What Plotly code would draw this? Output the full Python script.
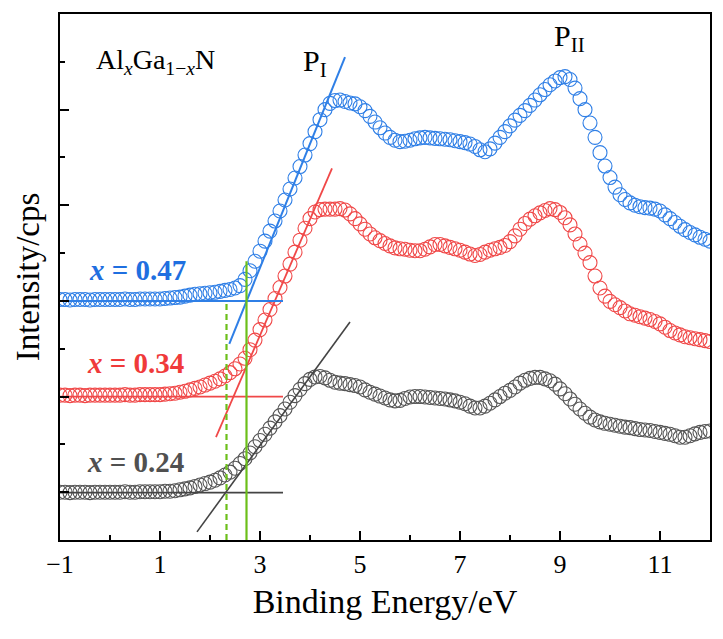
import numpy as np
import plotly.graph_objects as go

# Binding energy grid (eV), 0.1 eV step
energy = np.round(np.arange(-1.0, 12.0001, 0.1), 1)

# Intensities (arbitrary units, offset stacked)
blue_047 = [
    5.03, 5.03, 5.02, 5.03, 5.03, 5.03, 5.02, 5.03, 5.03, 5.03,
    5.03, 5.03, 5.03, 5.04, 5.03, 5.03, 5.04, 5.04, 5.04, 5.04,
    5.04, 5.05, 5.06, 5.07, 5.08, 5.10, 5.12, 5.14, 5.15, 5.16,
    5.17, 5.18, 5.20, 5.22, 5.24, 5.27, 5.32, 5.45, 5.63, 5.83,
    6.04, 6.25, 6.46, 6.67, 6.88, 7.11, 7.34, 7.57, 7.81, 8.05,
    8.29, 8.54, 8.79, 9.00, 9.13, 9.19, 9.20, 9.17, 9.14, 9.12,
    9.06, 8.98, 8.86, 8.74, 8.62, 8.51, 8.42, 8.36, 8.33, 8.34,
    8.36, 8.39, 8.41, 8.42, 8.41, 8.40, 8.39, 8.38, 8.37, 8.35,
    8.33, 8.31, 8.28, 8.23, 8.16, 8.12, 8.18, 8.30, 8.42, 8.54,
    8.66, 8.78, 8.88, 8.98, 9.09, 9.20, 9.31, 9.42, 9.52, 9.60,
    9.67, 9.69, 9.63, 9.45, 9.23, 9.00, 8.72, 8.42, 8.10, 7.82,
    7.58, 7.38, 7.22, 7.12, 7.05, 7.00, 6.97, 6.95, 6.94, 6.92,
    6.88, 6.80, 6.72, 6.64, 6.56, 6.49, 6.43, 6.38, 6.33, 6.29,
    6.25,
]
red_034 = [
    3.03, 3.03, 3.02, 3.03, 3.03, 3.02, 3.03, 3.03, 3.03, 3.03,
    3.03, 3.03, 3.03, 3.04, 3.03, 3.03, 3.04, 3.04, 3.04, 3.04,
    3.04, 3.05, 3.06, 3.07, 3.09, 3.11, 3.14, 3.17, 3.20, 3.24,
    3.28, 3.32, 3.37, 3.43, 3.50, 3.58, 3.68, 3.80, 3.98, 4.18,
    4.40, 4.60, 4.82, 5.05, 5.28, 5.52, 5.77, 6.02, 6.27, 6.52,
    6.72, 6.86, 6.91, 6.92, 6.92, 6.92, 6.93, 6.90, 6.82, 6.72,
    6.61, 6.50, 6.40, 6.32, 6.26, 6.20, 6.15, 6.11, 6.09, 6.08,
    6.06, 6.05, 6.05, 6.08, 6.13, 6.18, 6.18, 6.15, 6.12, 6.09,
    6.06, 6.02, 5.98, 5.95, 5.97, 6.02, 6.06, 6.09, 6.12, 6.16,
    6.24, 6.36, 6.50, 6.62, 6.71, 6.78, 6.84, 6.89, 6.93, 6.91,
    6.85, 6.74, 6.59, 6.40, 6.19, 6.00, 5.80, 5.52, 5.27, 5.10,
    4.99, 4.92, 4.86, 4.79, 4.73, 4.70, 4.67, 4.64, 4.61, 4.57,
    4.52, 4.45, 4.38, 4.33, 4.29, 4.25, 4.23, 4.21, 4.19, 4.17,
    4.15,
]
gray_024 = [
    1.00, 1.00, 0.99, 1.00, 1.00, 1.00, 0.99, 1.00, 1.00, 1.00,
    1.00, 1.00, 1.00, 1.01, 1.00, 1.00, 1.01, 1.01, 1.01, 1.01,
    1.01, 1.02, 1.02, 1.03, 1.05, 1.07, 1.09, 1.12, 1.15, 1.18,
    1.21, 1.25, 1.30, 1.36, 1.42, 1.50, 1.60, 1.70, 1.82, 1.95,
    2.08, 2.21, 2.34, 2.47, 2.60, 2.74, 2.88, 3.02, 3.15, 3.27,
    3.36, 3.41, 3.42, 3.39, 3.34, 3.30, 3.28, 3.27, 3.25, 3.23,
    3.20, 3.14, 3.09, 3.05, 3.01, 2.97, 2.93, 2.91, 2.92, 2.96,
    2.99, 3.00, 3.00, 2.99, 2.98, 2.97, 2.96, 2.95, 2.93, 2.91,
    2.88, 2.85, 2.80, 2.76, 2.76, 2.80, 2.86, 2.93, 3.00, 3.07,
    3.13, 3.20, 3.28, 3.34, 3.38, 3.40, 3.40, 3.37, 3.33, 3.26,
    3.16, 3.06, 2.95, 2.84, 2.74, 2.65, 2.57, 2.51, 2.47, 2.44,
    2.42, 2.40, 2.38, 2.36, 2.35, 2.33, 2.31, 2.30, 2.29, 2.27,
    2.25, 2.23, 2.21, 2.18, 2.15, 2.15, 2.18, 2.22, 2.25, 2.27,
    2.28,
]

# Linear onset fits (two end points each) and baselines
blue_fit_x = [2.386, 4.70]
blue_fit_y = [4.10, 10.10]
red_fit_x = [2.12, 4.44]
red_fit_y = [2.15, 7.77]
gray_fit_x = [1.74, 4.80]
gray_fit_y = [0.17, 4.56]
base_x = [-1.0, 3.46]
blue_base = [5.0, 5.0]
red_base = [3.0, 3.0]
gray_base = [0.99, 0.99]

# Onset markers (green vertical lines)
onset_solid_x = [2.73, 2.73]
onset_solid_y = [0.0, 5.83]
onset_dash_x = [2.33, 2.33]
onset_dash_y = [0.0, 4.94]

BLUE = "#2f7fe6"
RED = "#f04848"
GRAY = "#555555"
GREEN = "#6cbf1a"
FONT = "Liberation Serif"

fig = go.Figure()

for ys, col in [(gray_024, GRAY), (red_034, RED), (blue_047, BLUE)]:
    fig.add_trace(go.Scatter(
        x=energy, y=ys, mode="markers",
        marker=dict(symbol="circle", size=14, color="rgba(0,0,0,0)",
                    line=dict(color=col, width=1.1)),
        hoverinfo="skip"))

for xs, ys, col, w in [
    (blue_fit_x, blue_fit_y, BLUE, 2),
    (red_fit_x, red_fit_y, RED, 1.8),
    (gray_fit_x, gray_fit_y, "#444444", 1.6),
    (base_x, blue_base, BLUE, 2),
    (base_x, red_base, RED, 1.8),
    (base_x, gray_base, "#444444", 1.6),
]:
    fig.add_trace(go.Scatter(x=xs, y=ys, mode="lines",
                             line=dict(color=col, width=w), hoverinfo="skip"))

fig.add_trace(go.Scatter(x=onset_solid_x, y=onset_solid_y, mode="lines",
                         line=dict(color=GREEN, width=2.2), hoverinfo="skip"))
fig.add_trace(go.Scatter(x=onset_dash_x, y=onset_dash_y, mode="lines",
                         line=dict(color=GREEN, width=2.2, dash="6px,4px"),
                         hoverinfo="skip"))

annos = [
    dict(x=-0.32, y=10.0, text="Al<sub><i>x</i></sub>Ga<sub>1−<i>x</i></sub>N",
         font=dict(size=28, color="black"), xanchor="left"),
    dict(x=3.82, y=9.97, text="P<sub>I</sub>", font=dict(size=30, color="black"),
         xanchor="left"),
    dict(x=8.84, y=10.49, text="P<sub>II</sub>", font=dict(size=30, color="black"),
         xanchor="left"),
    dict(x=-0.46, y=5.65, text="<b><i>x</i> = 0.47</b>",
         font=dict(size=29, color="#1f6fe0"), xanchor="left"),
    dict(x=-0.50, y=3.71, text="<b><i>x</i> = 0.34</b>",
         font=dict(size=29, color="#f03a3a"), xanchor="left"),
    dict(x=-0.50, y=1.63, text="<b><i>x</i> = 0.24</b>",
         font=dict(size=29, color="#505050"), xanchor="left"),
]
for a in annos:
    fig.add_annotation(xref="x", yref="y", showarrow=False, yanchor="middle",
                       font_family=FONT, **a)

axis_common = dict(showline=True, linecolor="black", linewidth=2, mirror=True,
                   showgrid=False, zeroline=False, ticks="inside", ticklen=9,
                   tickwidth=1.6, tickcolor="black")

fig.update_xaxes(range=[-1, 12], tick0=-1, dtick=2,
                 tickfont=dict(family=FONT, size=26, color="black"),
                 title=dict(text="Binding Energy/eV",
                            font=dict(family=FONT, size=34, color="black"),
                            standoff=11),
                 minor=dict(dtick=1, tick0=0, ticks="inside", ticklen=5,
                            tickwidth=1.6, tickcolor="black", showgrid=False),
                 **axis_common)
fig.update_yaxes(range=[0, 11], tick0=1, dtick=2, showticklabels=False,
                 title=dict(text="Intensity/cps",
                            font=dict(family=FONT, size=33, color="black"),
                            standoff=8),
                 minor=dict(dtick=1, tick0=0, ticks="inside", ticklen=5,
                            tickwidth=1.6, tickcolor="black", showgrid=False),
                 **axis_common)

# page body adds an 8px margin, so the figure is sized to fit the window
fig.update_layout(width=715, height=631,
                  margin=dict(l=52, r=13, t=4, b=99),
                  plot_bgcolor="white", paper_bgcolor="white",
                  showlegend=False,
                  font=dict(family=FONT, color="black"))

fig.write_html("out.html")
